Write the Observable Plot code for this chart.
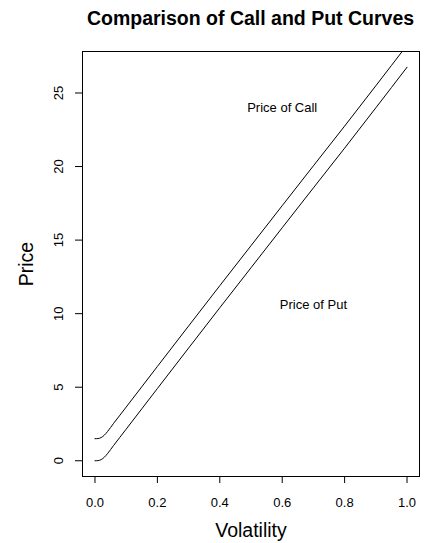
<!DOCTYPE html>
<html>
<head>
<meta charset="utf-8">
<script src="https://cdn.jsdelivr.net/npm/d3@7"></script>
<script src="https://cdn.jsdelivr.net/npm/@observablehq/plot@0.6"></script>
<style>
  html, body { margin: 0; padding: 0; background: #fff; }
  body { width: 424px; height: 543px; overflow: hidden; font-family: "Liberation Sans", Arial, sans-serif; }
  #title { box-sizing: border-box; height: 40px; padding: 7px 5px 0 82px; text-align: center;
           font-weight: bold; font-size: 19.5px; line-height: 22px; color: #000; white-space: nowrap; }
</style>
</head>
<body>
<div id="title">Comparison of Call and Put Curves</div>
<div id="chart"></div>
<script>
const volatility = [0, 0.01, 0.02, 0.03, 0.04, 0.05, 0.06, 0.08, 0.10, 0.15, 0.20, 0.30, 0.40, 0.50, 0.60, 0.70, 0.80, 0.90, 1.00];
const putPrice  = [0, 0.01, 0.08, 0.24, 0.48, 0.76, 1.05, 1.60, 2.15, 3.53, 4.91, 7.66, 10.40, 13.12, 15.84, 18.55, 21.25, 23.99, 26.75];
const callPrice = [1.50, 1.51, 1.58, 1.74, 1.98, 2.26, 2.55, 3.10, 3.65, 5.03, 6.41, 9.16, 11.90, 14.62, 17.34, 20.05, 22.75, 25.49, 28.25];
const xTicks = [0, 0.2, 0.4, 0.6, 0.8, 1.0];
const yTicks = [0, 5, 10, 15, 20, 25];
const xLabel = "Volatility";
const yLabel = "Price";
const annotations = [
  {x: 0.6, y: 24, text: "Price of Call"},
  {x: 0.7, y: 10.6, text: "Price of Put"}
];

const putRows = volatility.map((v, i) => ({vol: v, price: putPrice[i]}));
const callRows = volatility.map((v, i) => ({vol: v, price: callPrice[i]}));

const chart = Plot.plot({
  width: 424,
  height: 503,
  marginLeft: 82,
  marginRight: 5,
  marginTop: 11,
  marginBottom: 67,
  style: {fontFamily: '"Liberation Sans", Arial, sans-serif', color: "#000", background: "#fff"},
  x: {domain: [-0.04, 1.04]},
  y: {domain: [-1.07, 27.82]},
  marks: [
    Plot.frame({stroke: "#000", strokeWidth: 1}),
    Plot.axisX({ticks: xTicks, tickFormat: d3.format(".1f"), tickSize: 7, tickPadding: 14, fontSize: 13, label: null}),
    Plot.axisY({ticks: yTicks, tickFormat: d => String(d), tickSize: 7, tickPadding: 13, fontSize: 13,
                tickRotate: -90, textAnchor: "middle", lineAnchor: "bottom", label: null}),
    Plot.text([xLabel], {frameAnchor: "bottom", text: d => d, dy: 47, lineAnchor: "top", fontSize: 19.5, fill: "#000"}),
    Plot.text([yLabel], {frameAnchor: "left", text: d => d, dx: -50, rotate: -90, lineAnchor: "bottom", textAnchor: "middle", fontSize: 19.5, fill: "#000"}),
    Plot.line(putRows, {x: "vol", y: "price", stroke: "#000", strokeWidth: 1, curve: "monotone-x", clip: true}),
    Plot.line(callRows, {x: "vol", y: "price", stroke: "#000", strokeWidth: 1, curve: "monotone-x", clip: true}),
    Plot.text(annotations, {x: "x", y: "y", text: "text", fontSize: 13, fill: "#000"})
  ]
});
document.getElementById("chart").appendChild(chart);
</script>
</body>
</html>
